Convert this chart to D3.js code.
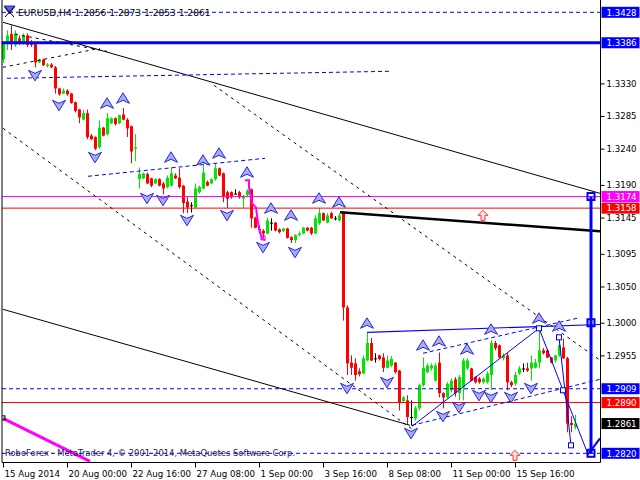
<!DOCTYPE html>
<html><head><meta charset="utf-8">
<script src="https://cdn.jsdelivr.net/npm/d3@7"></script>
<style>body{margin:0;background:#fff;} svg{display:block;font-family:'DejaVu Sans',sans-serif;}</style>
</head><body><svg id="c" width="640" height="480"></svg>
<script>
// ---------- DATA ----------
const symbolTitle = "EURUSD,H4";
const headerOHLC = [1.2856, 1.2873, 1.2853, 1.2861];
const opens = [1.3363,1.3384,1.3398,1.3383,1.3392,1.3385,1.3396,1.3387,1.3385,1.3359,1.3363,1.3354,1.3356,1.3352,1.3323,1.3316,1.3320,1.3316,1.3304,1.3294,1.3280,1.3289,1.3258,1.3256,1.3242,1.3269,1.3260,1.3275,1.3282,1.3275,1.3287,1.3280,1.3271,1.3240,
1.3198,1.3199,1.3205,1.3199,1.3192,1.3198,1.3192,1.3187,1.3189,1.3203,1.3200,1.3189,1.3167,1.3162,1.3159,1.3180,1.3185,1.3194,1.3192,1.3198,1.3213,1.3206,1.3180,1.3180,1.3178,1.3180,1.3171,1.3176,1.3184,1.3145,1.3129,1.3127,1.3123,1.3138,1.3138,1.3129,1.3126,1.3130,1.3118,1.3114,1.3121,1.3123,1.3131,1.3131,1.3123,1.3137,1.3151,1.3138,1.3151,1.3144,1.3141,
1.3151,1.3021,1.2945,1.2944,1.2933,1.2930,1.2948,1.2972,1.2951,1.2955,1.2952,1.2938,1.2941,1.2945,1.2934,1.2892,1.2893,1.2870,1.2868,1.2882,1.2914,1.2932,1.2937,1.2920,1.2945,1.2903,1.2897,1.2907,1.2922,1.2903,1.2911,1.2937,1.2937,1.2925,1.2923,1.2918,1.2918,1.2928,1.2972,1.2969,1.2951,1.2955,1.2918,1.2916,1.2930,1.2937,1.2937,1.2937,1.2938,1.2945,1.2962,1.2962,1.2952,1.2948,1.2955,1.2966,1.2951,1.2862,1.2856];
const highs = [1.3387,1.3403,1.3410,1.3403,1.3396,1.3399,1.3399,1.3390,1.3387,1.3364,1.3364,1.3358,1.3358,1.3354,1.3324,1.3323,1.3322,1.3317,1.3305,1.3295,1.3293,1.3294,1.3260,1.3257,1.3279,1.3270,1.3289,1.3283,1.3283,1.3287,1.3296,1.3282,1.3272,1.3260,
1.3214,1.3207,1.3207,1.3200,1.3199,1.3199,1.3194,1.3203,1.3214,1.3206,1.3213,1.3190,1.3173,1.3166,1.3192,1.3189,1.3220,1.3196,1.3199,1.3220,1.3214,1.3207,1.3182,1.3181,1.3184,1.3182,1.3176,1.3184,1.3185,1.3146,1.3134,1.3129,1.3145,1.3144,1.3139,1.3130,1.3131,1.3131,1.3119,1.3122,1.3126,1.3132,1.3132,1.3132,1.3148,1.3158,1.3152,1.3151,1.3153,1.3147,1.3151,
1.3152,1.3024,1.2955,1.2951,1.2937,1.2955,1.2987,1.2979,1.2958,1.2956,1.2958,1.2955,1.2954,1.2946,1.2935,1.2899,1.2900,1.2893,1.2885,1.2916,1.2952,1.2944,1.2944,1.2944,1.2959,1.2904,1.2918,1.2923,1.2925,1.2928,1.2951,1.2951,1.2938,1.2926,1.2925,1.2925,1.2933,1.2976,1.2975,1.2970,1.2958,1.2958,1.2920,1.2932,1.2940,1.2944,1.2945,1.2955,1.2950,1.2992,1.2965,1.2963,1.2953,1.2956,1.2980,1.2978,1.2953,1.2871,1.2873];
const lows = [1.3358,1.3376,1.3376,1.3380,1.3383,1.3383,1.3380,1.3380,1.3352,1.3358,1.3354,1.3352,1.3351,1.3316,1.3313,1.3315,1.3313,1.3302,1.3290,1.3275,1.3279,1.3253,1.3252,1.3238,1.3240,1.3257,1.3258,1.3274,1.3272,1.3274,1.3279,1.3256,1.3220,1.3223,
1.3185,1.3198,1.3191,1.3187,1.3191,1.3188,1.3177,1.3185,1.3188,1.3198,1.3185,1.3151,1.3151,1.3152,1.3158,1.3178,1.3184,1.3188,1.3191,1.3196,1.3202,1.3166,1.3158,1.3171,1.3177,1.3171,1.3158,1.3174,1.3131,1.3130,1.3123,1.3117,1.3122,1.3127,1.3126,1.3123,1.3125,1.3116,1.3110,1.3110,1.3119,1.3122,1.3126,1.3121,1.3122,1.3135,1.3140,1.3137,1.3143,1.3141,1.3140,
1.3003,1.2928,1.2928,1.2920,1.2926,1.2929,1.2947,1.2947,1.2945,1.2948,1.2932,1.2937,1.2939,1.2930,1.2879,1.2890,1.2860,1.2858,1.2865,1.2879,1.2912,1.2930,1.2934,1.2919,1.2897,1.2882,1.2896,1.2904,1.2898,1.2893,1.2893,1.2935,1.2919,1.2916,1.2916,1.2916,1.2916,1.2907,1.2962,1.2951,1.2948,1.2907,1.2911,1.2913,1.2928,1.2932,1.2932,1.2920,1.2937,1.2937,1.2956,1.2951,1.2944,1.2945,1.2953,1.2950,1.2849,1.2849,1.2853];
const closes = [1.3385,1.3396,1.3384,1.3399,1.3385,1.3396,1.3383,1.3383,1.3359,1.3363,1.3355,1.3356,1.3352,1.3323,1.3315,1.3320,1.3315,1.3303,1.3292,1.3283,1.3289,1.3256,1.3253,1.3240,1.3269,1.3258,1.3282,1.3282,1.3274,1.3286,1.3280,1.3268,1.3236,1.3242,
1.3205,1.3206,1.3192,1.3189,1.3198,1.3189,1.3185,1.3200,1.3206,1.3199,1.3187,1.3165,1.3159,1.3162,1.3185,1.3187,1.3207,1.3189,1.3198,1.3213,1.3203,1.3173,1.3171,1.3173,1.3178,1.3173,1.3175,1.3182,1.3144,1.3131,1.3129,1.3123,1.3141,1.3138,1.3127,1.3125,1.3130,1.3117,1.3114,1.3121,1.3123,1.3131,1.3127,1.3123,1.3144,1.3151,1.3141,1.3148,1.3144,1.3144,1.3148,
1.3021,1.2944,1.2938,1.2928,1.2929,1.2951,1.2972,1.2948,1.2951,1.2950,1.2938,1.2948,1.2950,1.2932,1.2890,1.2897,1.2870,1.2870,1.2882,1.2914,1.2938,1.2941,1.2941,1.2941,1.2903,1.2897,1.2916,1.2920,1.2903,1.2925,1.2948,1.2948,1.2920,1.2918,1.2918,1.2923,1.2930,1.2972,1.2965,1.2952,1.2955,1.2918,1.2914,1.2928,1.2937,1.2937,1.2934,1.2945,1.2945,1.2962,1.2958,1.2952,1.2945,1.2955,1.2969,1.2951,1.2861,1.2859,1.2861];

const timeTickBars = [1,17,33,49,65,81,97,113,129];
const timeTickLabels = ["15 Aug 2014","20 Aug 00:00","22 Aug 16:00","27 Aug 08:00","1 Sep 00:00","3 Sep 16:00","8 Sep 08:00","11 Sep 00:00","15 Sep 16:00"];
const priceTicks = [1.3330,1.3285,1.3240,1.3190,1.3145,1.3095,1.3050,1.3000,1.2955];

// horizontal levels
const levelPrices = [1.3428,1.3386,1.3174,1.3158,1.2909,1.2890,1.2820];
const currentPrice = 1.2861;

// trend lines as [bar, price]
const blackTrendTop = [[1,1.34142],[150.25,1.31784]];
const blackDashA = [[4,1.33977],[27,1.33742]];
const blackDashB = [[1,1.33522],[25.25,1.33784]];
const blackTrendBottom = [[1,1.30185],[102.75,1.28586]];
const blackDashC = [[1,1.32681],[104,1.28503]];
const blackDashD = [[53.75,1.33273],[150.25,1.29482]];
const blackThick = [[85.25,1.31522],[150.25,1.31261]];
const blueDashTop = [[2,1.33370],[97.75,1.33467]];
const blueDashMid = [[22.25,1.32019],[66.5,1.32267]];
const blueRangeTop = [[92,1.29868],[150.25,1.29976]];
const blueChanUpper = [[106,1.29579],[144.5,1.30061]];
const blueChanLower = [[103.25,1.28586],[150.25,1.29220]];
const blueZigzag = [[103.25,1.28572],[135,1.29923],[141,1.29069],[147.25,1.28186]];
const blueRise = [[147.25,1.28186],[150.25,1.28407]];
const blueLeg2 = [[140,1.29799],[143,1.28310]];
const blueSquares = [[135,1.29923],[140,1.29799],[141,1.29069],[143,1.28310]];
const targetBar = 148;
const targetPrices = [1.3174,1.3000,1.2820];
const magentaDiag = [[1,1.28682],[22.75,1.28089]];
const magentaZig = [[61.5,1.31964],[62.5,1.31964],[62.5,1.31867],[63.25,1.31647],[64.25,1.31591],[64.5,1.31481],[65,1.31302],[65.75,1.31164],[66.5,1.31136]];

// fractal arrows [bar, price]
const fractalUp = [[27,1.33025],[31,1.33094],[43,1.32281],[51,1.3224],[55,1.32336],[62,1.32074],[68,1.31578],[73,1.31481],[80,1.31716],[85,1.3166],[92,1.29992],[106,1.29689],[110,1.29744],[117,1.29634],[123,1.29909],[135,1.30061],[140,1.29951]];
const fractalDown = [[9,1.33411],[15,1.32998],[24,1.32281],[37,1.31716],[41,1.31688],[47,1.31412],[57,1.31481],[66,1.3104],[74,1.30971],[87,1.29096],[97,1.29179],[103,1.28475],[111,1.2871],[115,1.28834],[120,1.28999],[123,1.28972],[128,1.28972],[133,1.29096]];
const signalUp = [[121,1.31481],[129,1.28172]];

// ---------- DRAW ----------
const svg = d3.select("#c");
const x = d3.scaleLinear().domain([1,144]).range([3,575]);
const y = d3.scaleLinear().domain([1.2820,1.3428]).range([453.3,12.3]);
const line = d3.line().x(d=>x(d[0])).y(d=>y(d[1]));
const PL=2, PR=600.5, PB=462.5;

const plot = svg.append("g");
plot.append("clipPath").attr("id","clip").append("rect").attr("x",PL).attr("y",0).attr("width",PR-PL).attr("height",PB);
const g = plot.append("g").attr("clip-path","url(#clip)");

// candles
const bars = d3.range(opens.length).map(i=>({i:i+1,o:opens[i],h:highs[i],l:lows[i],c:closes[i]}));
const col = d=> d.c>d.o? "#00e600" : (d.c<d.o? "#ff0000" : "#000000");
g.selectAll(".wick").data(bars).join("line")
 .attr("x1",d=>Math.round(x(d.i))+0.5).attr("x2",d=>Math.round(x(d.i))+0.5)
 .attr("y1",d=>y(d.h)).attr("y2",d=>y(d.l)).attr("stroke",col).attr("stroke-width",1);
g.selectAll(".body").data(bars).join("rect")
 .attr("x",d=>Math.round(x(d.i))-1).attr("width",3)
 .attr("y",d=>y(Math.max(d.o,d.c))).attr("height",d=>Math.max(1,y(Math.min(d.o,d.c))-y(Math.max(d.o,d.c))))
 .attr("fill",col);

// horizontal levels
const levelStyle = [
 {c:"#0000ff",w:1,dash:"4,3"},{c:"#0000ff",w:3,dash:null},{c:"#ff00ff",w:1,dash:null},{c:"#ff0000",w:1,dash:null},
 {c:"#0000ff",w:1,dash:"4,3"},{c:"#ff0000",w:1,dash:null},{c:"#0000ff",w:1,dash:"4,3"}];
levelPrices.forEach((p,i)=>{
  g.append("line").attr("x1",PL).attr("x2",PR).attr("y1",y(p)).attr("y2",y(p))
   .attr("stroke",levelStyle[i].c).attr("stroke-width",levelStyle[i].w).attr("stroke-dasharray",levelStyle[i].dash);
});

function drawLine(pts,color,w,dash){
  g.append("path").attr("d",line(pts)).attr("fill","none").attr("stroke",color).attr("stroke-width",w).attr("stroke-dasharray",dash||null);
}
drawLine(blackTrendTop,"#000",1);
drawLine(blackDashA,"#000",1,"3,4");
drawLine(blackDashB,"#000",1,"3,4");
drawLine(blackTrendBottom,"#000",1);
drawLine(blackDashC,"#000",1,"3,4");
drawLine(blackDashD,"#000",1,"3,4");
drawLine(blackThick,"#000",2.5);
drawLine(blueDashTop,"#0000ff",1,"4,3");
drawLine(blueDashMid,"#0000ff",1,"4,3");
drawLine(blueRangeTop,"#0000ff",1.2);
drawLine(blueChanUpper,"#0000ff",1,"4,3");
drawLine(blueChanLower,"#0000ff",1,"4,3");
drawLine(blueZigzag,"#0000ff",1);
drawLine(blueLeg2,"#0000ff",1);
drawLine(blueRise,"#0000ff",2);
drawLine(magentaDiag,"#ff00ff",3);
drawLine(magentaZig,"#ff00ff",2);
// squares
blueSquares.forEach(p=>{
  g.append("rect").attr("x",x(p[0])-2.5).attr("y",y(p[1])-2.5).attr("width",5).attr("height",5)
   .attr("fill","#fff").attr("stroke","#0000ff").attr("stroke-width",1);
});
// thick target vertical
g.append("line").attr("x1",x(targetBar)).attr("x2",x(targetBar)).attr("y1",y(targetPrices[0])).attr("y2",y(targetPrices[2]))
 .attr("stroke","#0000ff").attr("stroke-width",3);
targetPrices.forEach(p=>{
  g.append("rect").attr("x",x(targetBar)-3.5).attr("y",y(p)-3.5).attr("width",7).attr("height",7)
   .attr("fill","none").attr("stroke","#0000ff").attr("stroke-width",2);
});
[magentaDiag[0], [66,1.31164]].forEach(p=>{
  g.append("rect").attr("x",x(p[0])-2).attr("y",y(p[1])-2.5).attr("width",4).attr("height",4)
   .attr("fill","none").attr("stroke",p===magentaDiag[0]?"#000":"#ff00ff").attr("stroke-width",1);
});

// fractals
const upPath = "M0,-5.5 L6.5,5 L0,2 L-6.5,5 Z";
const dnPath = "M0,5.5 L6.5,-5 L0,-2 L-6.5,-5 Z";
g.selectAll(".fu").data(fractalUp).join("path").attr("d",upPath)
 .attr("transform",d=>`translate(${x(d[0])},${y(d[1])})`).attr("fill","#a8a8ff").attr("stroke","#2828d0").attr("stroke-width",1);
g.selectAll(".fd").data(fractalDown).join("path").attr("d",dnPath)
 .attr("transform",d=>`translate(${x(d[0])},${y(d[1])})`).attr("fill","#a8a8ff").attr("stroke","#2828d0").attr("stroke-width",1);
g.selectAll(".su").data(signalUp).join("path").attr("d","M0,-5 L5,0 L2,0 L2,5 L-2,5 L-2,0 L-5,0 Z")
 .attr("transform",d=>`translate(${x(d[0])},${y(d[1])})`).attr("fill","#ffe0e0").attr("stroke","#ff3030").attr("stroke-width",1);

// frame
svg.append("line").attr("x1",PL).attr("x2",PL).attr("y1",0).attr("y2",PB).attr("stroke","#000");
svg.append("line").attr("x1",PR).attr("x2",PR).attr("y1",0).attr("y2",PB).attr("stroke","#000");
svg.append("line").attr("x1",PL).attr("x2",PR).attr("y1",PB).attr("y2",PB).attr("stroke","#000");

// time axis
const xa = svg.append("g").attr("transform",`translate(0,${PB})`)
 .call(d3.axisBottom(x).tickValues(timeTickBars).tickFormat((d,i)=>timeTickLabels[i]).tickSize(5).tickSizeOuter(0));
xa.select(".domain").remove();
xa.selectAll("line").attr("stroke","#000");
xa.selectAll("text").attr("text-anchor","start").attr("dx","1").attr("y",8).attr("font-size","8.7px").attr("font-family","DejaVu Sans").attr("fill","#000");

// price axis
const ya = svg.append("g").attr("transform",`translate(${PR},0)`)
 .call(d3.axisRight(y).tickValues(priceTicks).tickFormat(d3.format(".4f")).tickSize(4).tickSizeOuter(0));
ya.select(".domain").remove();
ya.selectAll("line").attr("stroke","#000");
ya.selectAll("text").attr("x",6).attr("font-size","8.6px").attr("font-family","DejaVu Sans").attr("fill","#000");

// level label boxes
const boxColors = ["#0000ff","#0000ff","#ff00ff","#ff0000","#0000ff","#ff0000","#0000ff"];
const boxVals = levelPrices.concat([currentPrice]);
const boxFill = boxColors.concat(["#000000"]);
boxVals.forEach((p,i)=>{
  svg.append("rect").attr("x",PR+1).attr("y",y(p)-5.5).attr("width",38).attr("height",11).attr("fill",boxFill[i]);
  svg.append("text").attr("x",PR+6).attr("y",y(p)+3.2).attr("font-size","8.6px").attr("fill","#fff").text(d3.format(".4f")(p));
});

// header
svg.append("path").attr("d","M4,6 L15,6 L9.5,14 Z").attr("fill","#6060ff").attr("stroke","#000080").attr("stroke-width",0.8);
svg.append("path").attr("d","M5,17 L14,7 M5,7 L14,17").attr("stroke","#000").attr("stroke-width",1);
svg.append("text").attr("x",18).attr("y",15.5).attr("font-size","9.1px").attr("fill","#000")
 .text(symbolTitle + "  " + headerOHLC.map(d3.format(".4f")).join(" "));
svg.append("text").attr("x",5).attr("y",456).attr("font-size","8.4px").attr("fill","#1a1a50")
 .text("RoboForex - MetaTrader 4, © 2001-2014, MetaQuotes Software Corp.");
</script></body></html>
